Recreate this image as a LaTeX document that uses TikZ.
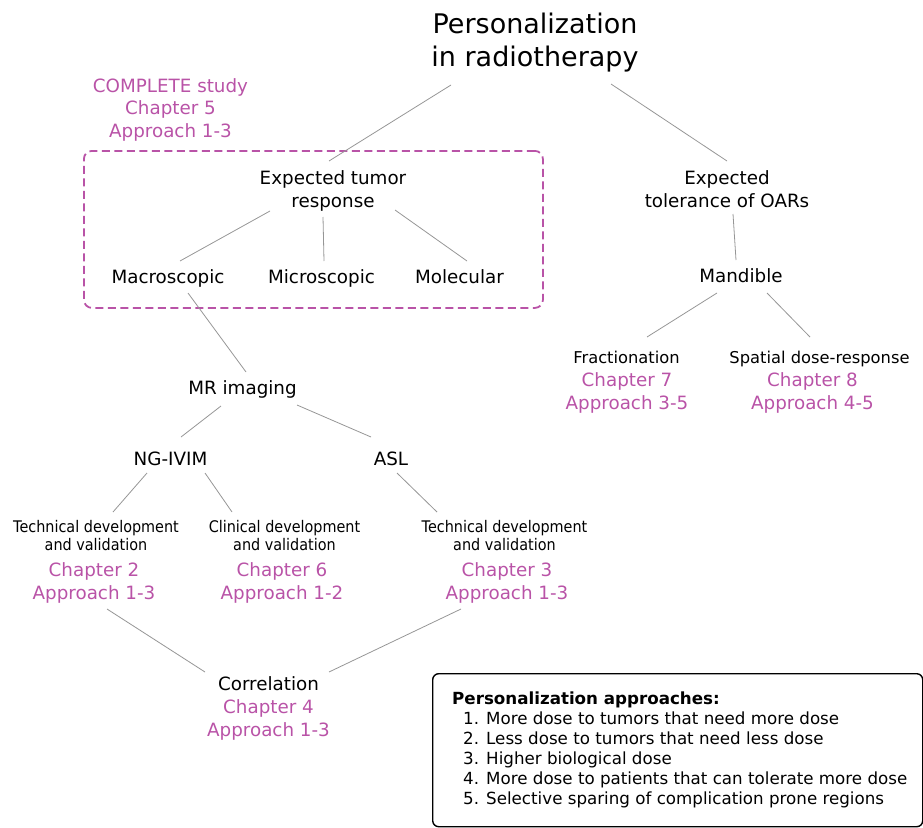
\documentclass[tikz,border=0pt]{standalone}
\usepackage{fontspec}
\setmainfont{DejaVu Sans}
\newfontfamily\condfont[FakeStretch=0.9]{DejaVu Sans}
\definecolor{mag}{RGB}{185,83,167}
\definecolor{ln}{RGB}{150,150,150}
\begin{document}
\begin{tikzpicture}[x=1pt,y=-1pt,
  base/.style={inner sep=0pt, align=center},
  lbl/.style={base, font=\fontsize{18.3}{22.8}\selectfont, text height=17.5pt, text depth=4pt},
  chap/.style={lbl, text=mag},
  sublbl/.style={base, font=\fontsize{16.3}{20}\selectfont, text height=16pt, text depth=3.6pt},
  condlbl/.style={base, font=\condfont\fontsize{16}{18.2}\selectfont, text height=12.5pt, text depth=3.6pt},
  conn/.style={draw=ln, line width=0.8pt}]
\useasboundingbox (0,0) rectangle (923,827);

% group box
\node[draw=mag, line width=1.8pt, dash pattern=on 8pt off 4.5pt, rounded corners=8pt,
      minimum width=459pt, minimum height=157pt, anchor=north west, inner sep=0pt] (grp) at (83,150) {};

% nodes (multi-line nodes are placed by their last line)
\node[base, font=\fontsize{27}{32.5}\selectfont, text height=23pt, text depth=6pt] (title) at (535,57.5) {Personalization\\in radiotherapy};
\node[chap] (complete) at (170.5,131) {COMPLETE study\\Chapter 5\\Approach 1-3};
\node[lbl] (tumor) at (333,201) {Expected tumor\\response};
\node[lbl] (macro) at (168,277) {Macroscopic};
\node[lbl] (micro) at (321.5,277) {Microscopic};
\node[lbl] (molec) at (459.5,277) {Molecular};
\node[lbl] (oar) at (727,201) {Expected\\tolerance of OARs};
\node[lbl] (mand) at (741,276) {Mandible};
\node[sublbl] (frac) at (626.5,357) {Fractionation};
\node[chap] (fracc) at (627,403) {Chapter 7\\Approach 3-5};
\node[sublbl] (spat) at (819.5,357) {Spatial dose-response};
\node[chap] (spatc) at (812.5,403) {Chapter 8\\Approach 4-5};
\node[lbl] (mr) at (242.5,388) {MR imaging};
\node[lbl] (ng) at (170.5,459) {NG-IVIM};
\node[lbl] (asl) at (391,459) {ASL};
\node[condlbl] (tech1) at (96,546) {Technical development\\and validation};
\node[chap] (tech1c) at (94,593) {Chapter 2\\Approach 1-3};
\node[condlbl] (clin) at (284.5,546) {Clinical development\\and validation};
\node[chap] (clinc) at (282,593) {Chapter 6\\Approach 1-2};
\node[condlbl] (tech2) at (504.5,546) {Technical development\\and validation};
\node[chap] (tech2c) at (507,593) {Chapter 3\\Approach 1-3};
\node[lbl] (corr) at (268.5,684) {Correlation};
\node[chap] (corrc) at (268.5,729.5) {Chapter 4\\Approach 1-3};

% legend
\node[draw=black, line width=1.4pt, rounded corners=6pt, minimum width=490pt, minimum height=153pt,
      anchor=north west, inner sep=0pt] (legend) at (432,673) {};
\node[base, align=left, anchor=west, font=\fontsize{16.7}{20}\selectfont, text height=14.3pt, text depth=3.7pt] (legtext) at (452,799)
  {\textbf{Personalization approaches:}\\
   \hspace*{11pt}1. More dose to tumors that need more dose\\
   \hspace*{11pt}2. Less dose to tumors that need less dose\\
   \hspace*{11pt}3. Higher biological dose\\
   \hspace*{11pt}4. More dose to patients that can tolerate more dose\\
   \hspace*{11pt}5. Selective sparing of complication prone regions};

% connectors
\draw[conn] ([shift={(-84,27.5)}]title.center) -- ([shift={(-4,-40)}]tumor.center);
\draw[conn] ([shift={(76,26.5)}]title.center) -- ([shift={(0,-40)}]oar.center);
\draw[conn] ([shift={(-63,10)}]tumor.center) -- ([shift={(12,-16)}]macro.center);
\draw[conn] ([shift={(-10,16)}]tumor.center) -- ([shift={(2.5,-16)}]micro.center);
\draw[conn] ([shift={(62,9)}]tumor.center) -- ([shift={(7.5,-16)}]molec.center);
\draw[conn] ([shift={(20,16)}]macro.center) -- ([shift={(3.5,-16)}]mr.center);
\draw[conn] ([shift={(6,13)}]oar.center) -- ([shift={(-5,-16)}]mand.center);
\draw[conn] ([shift={(-24,17)}]mand.center) -- ([shift={(20.5,-20)}]frac.center);
\draw[conn] ([shift={(26,17)}]mand.center) -- ([shift={(-9.5,-20)}]spat.center);
\draw[conn] ([shift={(-21.5,18)}]mr.center) -- ([shift={(10.5,-22)}]ng.center);
\draw[conn] ([shift={(54.5,17)}]mr.center) -- ([shift={(-20,-22)}]asl.center);
\draw[conn] ([shift={(-23.5,14)}]ng.center) -- ([shift={(17,-34)}]tech1.center);
\draw[conn] ([shift={(34.5,14)}]ng.center) -- ([shift={(-52.5,-34)}]clin.center);
\draw[conn] ([shift={(6,14)}]asl.center) -- ([shift={(-67.5,-34)}]tech2.center);
\draw[conn] ([shift={(13,16)}]tech1c.center) -- ([shift={(-63.5,-12)}]corr.center);
\draw[conn] ([shift={(-46,16)}]tech2c.center) -- ([shift={(60.5,-12)}]corr.center);
\end{tikzpicture}
\end{document}
